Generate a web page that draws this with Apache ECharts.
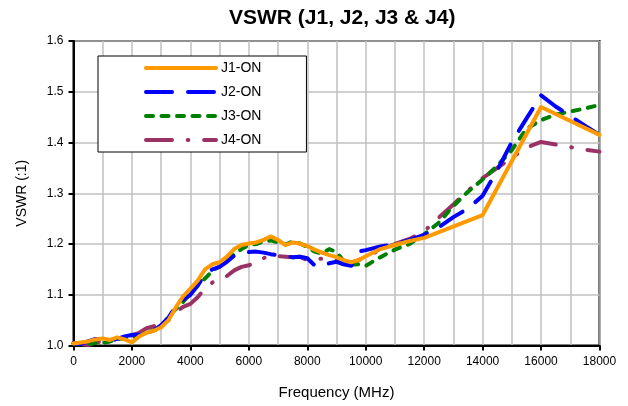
<!DOCTYPE html>
<html>
<head>
<meta charset="utf-8">
<script src="https://cdn.jsdelivr.net/npm/echarts@6/dist/echarts.min.js"></script>
<style>html,body{margin:0;padding:0;background:#fff;}#c{width:628px;height:406px;}</style>
</head>
<body>
<div id="c"></div>
<script>
var seriesNames = ['J1-ON', 'J2-ON', 'J3-ON', 'J4-ON'];

var freqLow = [0,250,500,750,1000,1250,1500,1750,2000,2250,2500,2750,3000,3250,3500,3750,4000,4250,4500,4750,5000,5250,5500,5750,6000,6250,6500,6750,7000,7250,7500,7750,8000,8250,8500,8750,9000,9250,9500,9750,10000];
var freqHighJ1 = [10500,11000,11500,12000,14000,16000,18000];
var freqHigh = [10500,11000,11500,12000,12500,13000,13500,14000,14500,15000,15500,16000,16500,17000,17500,18000];

var j1 = [1.004,1.006,1.008,1.012,1.014,1.011,1.016,1.012,1.006,1.018,1.025,1.029,1.036,1.05,1.075,1.097,1.112,1.128,1.15,1.16,1.164,1.175,1.19,1.198,1.201,1.203,1.208,1.215,1.208,1.198,1.203,1.201,1.196,1.189,1.183,1.178,1.174,1.168,1.164,1.168,1.176,
          1.19,1.198,1.206,1.212,1.257,1.47,1.415];
var j2 = [1.004,1.003,1.008,1.013,1.013,1.01,1.013,1.018,1.021,1.021,1.022,1.03,1.04,1.055,1.077,1.09,1.1,1.118,1.14,1.15,1.155,1.165,1.177,1.182,1.184,1.185,1.183,1.18,1.178,1.176,1.174,1.175,1.172,1.158,1.156,1.162,1.165,1.16,1.157,1.185,1.188,
          1.195,1.2,1.208,1.218,1.233,1.253,1.27,1.295,1.345,1.401,1.447,1.493,1.471,1.452,1.433,1.415];
var j3 = [1.004,1.004,1.003,1.005,1.005,1.008,1.013,1.014,1.016,1.02,1.025,1.03,1.035,1.058,1.072,1.086,1.103,1.118,1.132,1.147,1.156,1.167,1.18,1.19,1.198,1.2,1.205,1.207,1.203,1.199,1.205,1.201,1.194,1.185,1.181,1.19,1.184,1.166,1.159,1.16,1.157,
          1.174,1.189,1.2,1.219,1.242,1.275,1.303,1.327,1.354,1.385,1.427,1.444,1.455,1.461,1.467,1.474];
var j4 = [1.005,1.003,1.001,1.006,1.008,1.01,1.013,1.019,1.02,1.025,1.034,1.038,1.042,1.05,1.066,1.076,1.082,1.095,1.113,1.124,1.13,1.137,1.148,1.155,1.158,1.163,1.172,1.178,1.176,1.175,1.174,1.175,1.168,1.17,1.171,1.172,1.167,1.16,1.163,1.168,1.175,
          1.188,1.2,1.21,1.225,1.252,1.278,1.305,1.33,1.35,1.37,1.39,1.401,1.396,1.391,1.386,1.382];

var colors = ['#FF9900', '#0000FF', '#008000', '#993366'];
var dashes = ['solid', [26, 16], [7, 8.5], [26, 15.7, 0.7, 15.7]];

function pairs(xs, ys) { return xs.map(function (x, i) { return [x, ys[i]]; }); }
var freqJ1 = freqLow.concat(freqHighJ1);
var freqAll = freqLow.concat(freqHigh);
var dataSets = [pairs(freqJ1, j1), pairs(freqAll, j2), pairs(freqAll, j3), pairs(freqAll, j4)];

var chart = echarts.init(document.getElementById('c'), null, {renderer: 'canvas'});
var font = 'Arial, "Liberation Sans", sans-serif';
chart.setOption({
  animation: false,
  backgroundColor: '#fff',
  title: {
    text: 'VSWR (J1, J2, J3 & J4)',
    left: 229, top: 8, padding: 0,
    textStyle: {fontFamily: font, fontSize: 21, fontWeight: 'bold', color: '#000'}
  },
  grid: {left: 73.5, right: 28.5, top: 41, bottom: 60.5, show: true, borderColor: '#000', borderWidth: 2, backgroundColor: 'transparent'},
  legend: {
    orient: 'vertical', left: 98, top: 56,
    padding: [5, 45, 5, 46],
    itemWidth: 70, itemHeight: 14, itemGap: 10,
    backgroundColor: '#fff', borderColor: '#000', borderWidth: 1,
    textStyle: {fontFamily: font, fontSize: 14, color: '#000'},
    itemStyle: {opacity: 0, borderWidth: 0},
    lineStyle: {width: 4, cap: 'round'},
    data: seriesNames
  },
  xAxis: {
    type: 'value', min: 0, max: 18000, interval: 2000,
    name: 'Frequency (MHz)', nameLocation: 'middle', nameGap: 40,
    nameTextStyle: {fontFamily: font, fontSize: 15, color: '#000'},
    axisLine: {show: true, lineStyle: {color: '#000', width: 2}},
    axisTick: {show: true, inside: false, length: 5, lineStyle: {color: '#000', width: 2}},
    axisLabel: {fontFamily: font, fontSize: 12, color: '#000', margin: 10, formatter: function (v) { return String(v); }},
    splitLine: {show: true, lineStyle: {color: '#C0C0C0', width: 1.5}},
    minorTick: {show: false, splitNumber: 2},
    minorSplitLine: {show: true, lineStyle: {color: '#C0C0C0', width: 1.5}}
  },
  yAxis: {
    type: 'value', min: 1.0, max: 1.6, interval: 0.1,
    name: 'VSWR (:1)', nameLocation: 'middle', nameGap: 44,
    nameTextStyle: {fontFamily: font, fontSize: 14, color: '#000'},
    axisLine: {show: true, lineStyle: {color: '#000', width: 2}},
    axisTick: {show: true, inside: false, length: 5, lineStyle: {color: '#000', width: 2}},
    axisLabel: {fontFamily: font, fontSize: 12, color: '#000', margin: 10, formatter: function (v) { return v.toFixed(1); }},
    splitLine: {show: true, lineStyle: {color: '#C0C0C0', width: 1.5}}
  },
  series: seriesNames.map(function (n, i) {
    return {
      name: n, type: 'line', data: dataSets[i], symbol: 'none', showSymbol: false,
      smooth: false, z: 10 - i,
      color: colors[i],
      lineStyle: {color: colors[i], width: 4, type: dashes[i], cap: 'round', join: 'round'}
    };
  })
});
</script>
</body>
</html>
